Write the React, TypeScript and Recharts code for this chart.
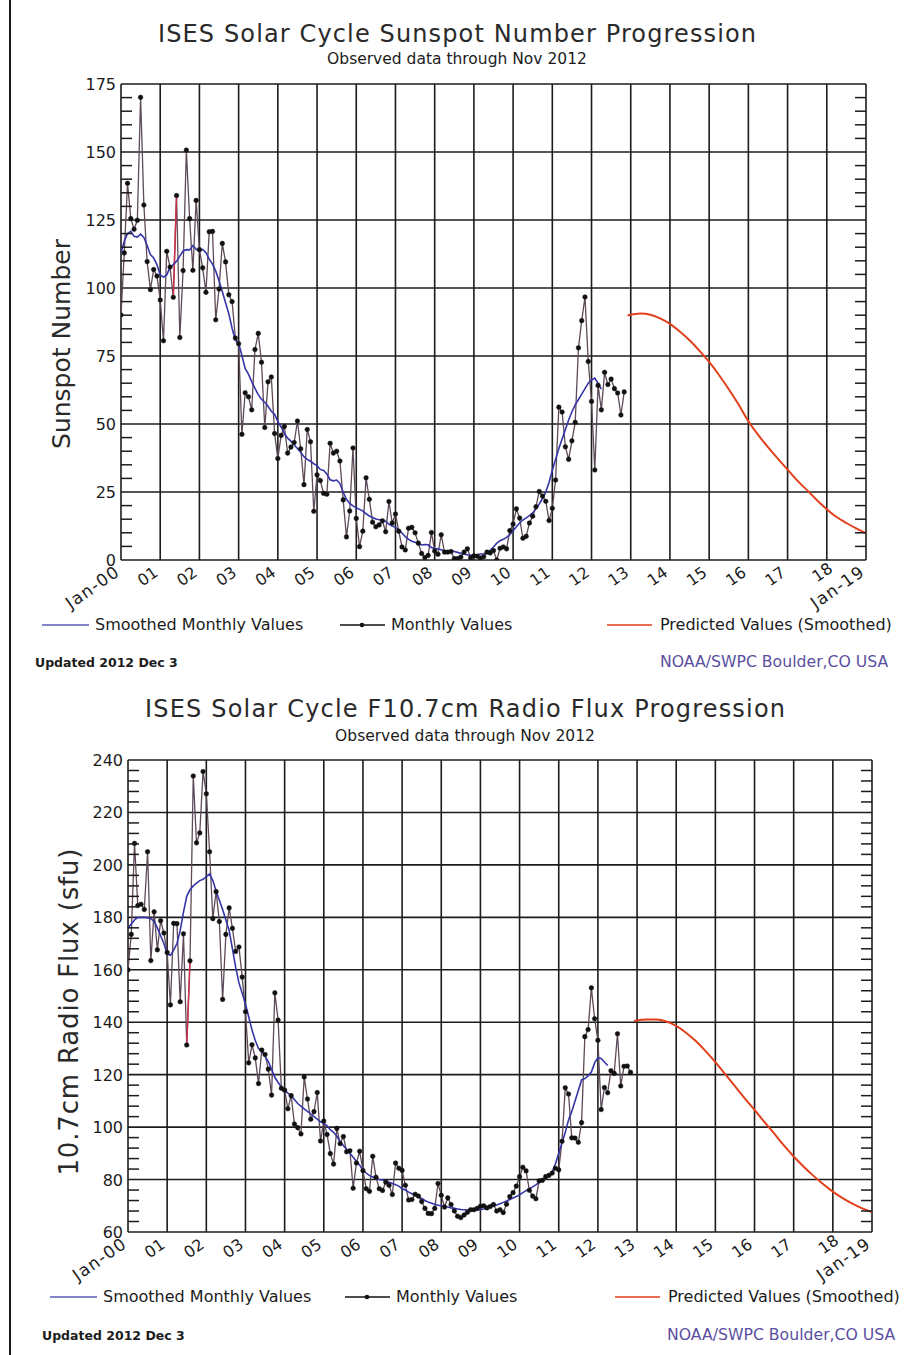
import React from "react";
import { LineChart, Line, XAxis, YAxis, ReferenceLine } from "recharts";

// x runs in years since Jan 2000; monthly values start at Jan 2000
const yearTicks = [0, 1, 2, 3, 4, 5, 6, 7, 8, 9, 10, 11, 12, 13, 14, 15, 16, 17, 18, 19];
const yearLabels = [
  "Jan-00", "01", "02", "03", "04", "05", "06", "07", "08", "09",
  "10", "11", "12", "13", "14", "15", "16", "17", "18", "Jan-19",
];

const ssnMajor = [0, 25, 50, 75, 100, 125, 150, 175];
const f107Major = [60, 80, 100, 120, 140, 160, 180, 200, 220, 240];

// monthly sunspot number, Jan 2000 .. Nov 2012
const ssnMonthly = [
  90.1, 112.9, 138.5, 125.5, 121.6, 124.9, 170.1, 130.5, 109.7, 99.4, 106.8, 104.4,
  95.6, 80.6, 113.5, 107.7, 96.6, 134.0, 81.8, 106.4, 150.7, 125.5, 106.5, 132.2,
  114.1, 107.4, 98.4, 120.7, 120.8, 88.3, 99.6, 116.4, 109.6, 97.5, 95.0, 81.6,
  79.5, 46.2, 61.5, 60.0, 55.2, 77.4, 83.3, 72.7, 48.7, 65.5, 67.3, 46.5,
  37.3, 45.8, 49.1, 39.3, 41.5, 43.2, 51.1, 40.9, 27.7, 48.0, 43.5, 17.9,
  31.3, 29.2, 24.5, 24.2, 42.9, 39.3, 40.0, 36.4, 22.1, 8.5, 18.0, 41.2,
  15.3, 4.9, 10.6, 30.2, 22.3, 13.9, 12.2, 12.9, 14.4, 10.4, 21.5, 13.6,
  16.9, 10.6, 4.8, 3.7, 11.7, 12.0, 10.0, 6.2, 2.4, 0.9, 1.7, 10.1,
  3.3, 2.1, 9.3, 2.9, 2.9, 3.1, 0.5, 0.5, 1.1, 2.9, 4.1, 0.8,
  1.5, 1.4, 0.7, 1.2, 2.9, 2.6, 3.5, 0.0, 4.3, 4.8, 4.1, 10.8,
  13.2, 18.8, 15.4, 8.0, 8.7, 13.6, 16.1, 19.6, 25.2, 23.5, 21.6, 14.5,
  19.0, 29.4, 56.2, 54.4, 41.6, 37.0, 43.8, 50.6, 78.0, 88.0, 96.7, 73.0,
  58.3, 33.1, 64.2, 55.2, 69.0, 64.5, 66.5, 63.0, 61.4, 53.3, 61.8,
];

// 13-month smoothed sunspot number, Jan 2000 .. Apr 2012
const ssnSmoothed = [
  112.9, 117.2, 120.0, 120.8, 119.0, 118.7, 119.8, 118.6, 115.6, 112.3, 111.0, 108.6,
  104.8, 104.0, 104.8, 107.5, 108.6, 109.8, 111.7, 113.6, 114.1, 114.0, 115.6, 114.2,
  113.6, 114.2, 113.0, 110.6, 108.8, 106.2, 102.7, 98.7, 94.6, 90.5, 85.2, 80.8,
  79.7, 75.2, 70.4, 68.3, 65.6, 63.1, 60.8, 59.1, 58.0, 56.5, 54.7, 53.6,
  50.9, 48.9, 46.5, 44.8, 43.7, 42.3, 41.0, 39.6, 38.0, 37.0, 36.3, 35.4,
  34.7, 33.3, 32.9, 31.6, 29.5, 29.1, 29.4, 28.1, 24.9, 22.3, 20.8, 19.9,
  19.2, 18.6, 18.0, 17.0, 16.2, 15.6, 15.1, 14.8, 14.8, 14.2, 13.2, 12.5,
  12.0, 11.1, 9.9, 8.6, 7.6, 6.9, 6.5, 6.0, 5.5, 5.7, 5.6, 4.6,
  4.2, 4.1, 3.8, 3.3, 3.4, 3.4, 3.1, 2.8, 2.5, 2.1, 1.9, 1.7,
  1.8, 1.9, 2.2, 2.3, 2.7, 3.6, 4.8, 6.2, 7.1, 7.6, 8.3, 9.3,
  10.8, 12.2, 13.6, 14.7, 15.5, 16.3, 17.3, 18.8, 20.6, 22.6, 25.0, 28.5,
  33.0, 37.0, 41.0, 44.5, 48.0, 51.5, 54.5, 57.0, 59.0, 61.0, 63.0, 65.0,
  66.2, 66.9, 65.0, 62.8,
];

// predicted smoothed sunspot number, [years since 2000, value]
const ssnPredicted: [number, number][] = [
  [12.92, 89.9], [13.25, 90.6], [13.5, 90.2], [13.75, 88.8], [14.0, 86.8],
  [14.25, 84.0], [14.5, 80.8], [14.75, 77.0], [15.0, 72.8], [15.25, 68.0],
  [15.5, 62.8], [15.75, 57.2], [16.0, 51.0], [16.25, 46.0], [16.5, 41.5],
  [16.75, 37.3], [17.0, 33.2], [17.25, 29.2], [17.5, 25.6], [17.75, 22.0],
  [18.0, 18.7], [18.25, 15.8], [18.5, 13.6], [18.75, 11.6], [19.0, 9.8],
];

// monthly F10.7cm flux (sfu), Jan 2000 .. Nov 2012
const f107Monthly = [
  160.0, 173.5, 208.2, 184.5, 185.0, 183.0, 205.0, 163.5, 182.1, 167.6, 178.7, 174.0,
  166.6, 146.6, 177.7, 177.6, 147.8, 173.7, 131.3, 163.4, 233.9, 208.4, 212.2, 235.6,
  227.1, 205.0, 179.5, 189.8, 178.4, 148.7, 173.5, 183.6, 175.8, 167.0, 168.7, 157.2,
  144.0, 124.5, 131.4, 126.4, 116.6, 129.4, 127.7, 122.1, 112.2, 151.2, 140.8, 114.8,
  114.1, 107.0, 112.0, 101.2, 99.8, 97.4, 119.1, 110.7, 103.0, 105.9, 113.2, 94.7,
  102.3, 97.2, 89.9, 85.9, 99.5, 93.7, 96.4, 90.6, 91.0, 76.7, 86.3, 90.8,
  83.4, 76.5, 75.5, 88.9, 80.9, 76.5, 75.8, 79.0, 77.8, 74.3, 86.3, 84.3,
  83.5, 77.8, 72.2, 72.4, 74.4, 73.7, 71.6, 69.0, 67.1, 67.0, 69.0, 78.5,
  74.0, 69.5, 73.0, 70.5, 68.0, 66.0, 65.5, 66.5, 67.5, 68.5, 68.5, 69.0,
  69.8, 70.0, 69.2, 69.7, 70.5, 68.0, 68.5, 67.4, 70.6, 73.5, 75.0, 77.5,
  81.1, 84.7, 83.3, 75.9, 73.7, 72.7, 79.5, 79.7, 81.1, 81.6, 82.5, 84.3,
  83.7, 94.6, 115.0, 112.6, 95.9, 95.8, 94.2, 101.7, 134.5, 137.2, 153.1, 141.3,
  133.1, 106.7, 115.1, 113.1, 121.5, 120.5, 135.6, 115.7, 123.2, 123.3, 120.9,
];

// smoothed F10.7cm flux, Jan 2000 .. Apr 2012
const f107Smoothed = [
  176.0, 177.5, 179.0, 180.0, 180.0, 180.0, 179.8, 179.5, 178.5, 176.0, 173.0, 170.0,
  166.0, 165.5, 167.5, 170.0, 175.0, 182.0, 188.0, 190.5, 192.0, 193.0, 194.0, 194.5,
  195.5, 196.5, 194.0, 190.0, 186.5, 183.0, 179.0, 175.0, 168.0, 161.0, 155.0, 151.0,
  147.0, 142.0, 137.0, 133.0, 130.0, 129.0, 127.0, 125.0, 122.0, 119.0, 117.0, 115.3,
  114.0, 113.0, 112.0, 110.5, 109.0, 108.0, 107.0, 106.0, 105.0, 104.0, 103.0, 102.0,
  101.5, 100.5, 99.0, 98.0, 96.5, 94.5, 93.0, 91.5, 90.0, 88.5, 87.0, 85.5,
  83.6, 82.5, 81.5, 81.0, 80.5, 80.0, 79.8, 79.5, 79.0, 78.5, 78.0, 77.5,
  76.5, 76.0, 75.2, 74.6, 74.0, 73.4, 72.8, 72.0, 71.4, 71.0, 70.6, 70.2,
  70.0, 69.8, 69.5, 69.2, 69.0, 68.8, 68.6, 68.5, 68.4, 68.3, 68.3, 68.4,
  68.6, 68.8, 69.1, 69.5, 69.9, 70.3, 70.8, 71.3, 71.8, 72.4, 73.0, 73.5,
  74.2, 75.0, 75.8, 76.5, 77.2, 78.0, 79.0, 79.8, 80.5, 81.5, 83.0, 86.0,
  90.0, 94.0, 98.0, 102.7, 106.0, 110.0, 114.0, 118.0, 118.5, 119.5, 121.0, 124.5,
  126.5, 126.2, 124.8, 123.5,
];

// predicted smoothed F10.7cm flux, [years since 2000, value]
const f107Predicted: [number, number][] = [
  [12.92, 140.5], [13.25, 141.0], [13.5, 141.0], [13.75, 140.3], [14.0, 138.6],
  [14.25, 136.0], [14.5, 132.8], [14.75, 129.0], [15.0, 124.8], [15.25, 120.2],
  [15.5, 115.6], [15.75, 111.0], [16.0, 106.6], [16.25, 102.0], [16.5, 97.6],
  [16.75, 93.0], [17.0, 88.8], [17.25, 85.0], [17.5, 81.5], [17.75, 78.3],
  [18.0, 75.4], [18.25, 72.9], [18.5, 70.8], [18.75, 69.0], [19.0, 67.6],
];

const FONT = "'DejaVu Sans', Arial, sans-serif";
const INK = "#1c1c1c";

const byMonth = (vals: number[]) => vals.map((v, i) => ({ t: i / 12, v }));
const byPair = (p: [number, number][]) => p.map(([t, v]) => ({ t, v }));

function range(from: number, to: number, step: number) {
  const out: number[] = [];
  for (let v = from; v <= to + 1e-9; v += step) out.push(v);
  return out;
}

type PanelProps = {
  top: number;
  height: number;
  marginTop: number;
  xAxisHeight: number;
  leftWidth: number;
  rightWidth: number;
  domain: [number, number];
  major: number[];
  minorStep: number;
  monthly: { t: number; v: number }[];
  smoothed: { t: number; v: number }[];
  predicted: { t: number; v: number }[];
  highlight: { t: number; v: number }[];
};

function Panel(p: PanelProps) {
  const allTicks = range(p.domain[0], p.domain[1], p.minorStep);
  const isMajor = (v: number) => p.major.some((m) => Math.abs(m - v) < 1e-6);

  const leftTick = (props: any) => {
    const { x, y, payload } = props;
    if (isMajor(payload.value)) {
      return (
        <text x={x - 5} y={y} dy={6} textAnchor="end" fontFamily={FONT} fontSize={16} fill={INK}>
          {payload.value}
        </text>
      );
    }
    return <line x1={x} x2={x + 11} y1={y} y2={y} stroke={INK} strokeWidth={1.5} />;
  };

  const rightTick = (props: any) => {
    const { x, y, payload } = props;
    if (isMajor(payload.value)) return <g />;
    return <line x1={x} x2={x - 11} y1={y} y2={y} stroke={INK} strokeWidth={1.5} />;
  };

  const bottomTick = (props: any) => {
    const { x, y, payload } = props;
    const i = yearTicks.indexOf(payload.value);
    const label = yearLabels[i];
    const long = label.startsWith("Jan");
    // the "18" label is nudged right/up in the original to make room for "Jan-19"
    const nudge = i === 18 ? 8 : 0;
    const ax = x - 1 + nudge;
    const ay = y + 15 - nudge / 2;
    return (
      <text
        x={ax}
        y={ay}
        textAnchor="end"
        fontFamily={FONT}
        fontSize={long ? 17 : 16}
        fill={INK}
        textLength={long ? 60 : undefined}
        transform={`rotate(-35, ${ax}, ${ay})`}
      >
        {label}
      </text>
    );
  };

  return (
    <div style={{ position: "absolute", left: 0, top: p.top }}>
      <LineChart
        width={915}
        height={p.height}
        margin={{ top: p.marginTop, right: 0, bottom: 0, left: 0 }}
      >
        <XAxis
          type="number"
          dataKey="t"
          domain={[0, 19]}
          ticks={yearTicks}
          interval={0}
          allowDataOverflow
          height={p.xAxisHeight}
          tickSize={0}
          tickMargin={0}
          tickLine={false}
          axisLine={false}
          tick={bottomTick}
        />
        <YAxis
          type="number"
          domain={p.domain}
          ticks={allTicks}
          interval={0}
          allowDataOverflow
          width={p.leftWidth}
          tickSize={0}
          tickMargin={0}
          tickLine={false}
          axisLine={false}
          tick={leftTick}
        />
        <YAxis
          yAxisId="r"
          orientation="right"
          type="number"
          domain={p.domain}
          ticks={allTicks}
          interval={0}
          allowDataOverflow
          width={p.rightWidth}
          tickSize={0}
          tickMargin={0}
          tickLine={false}
          axisLine={false}
          tick={rightTick}
        />
        {p.major.map((v) => (
          <ReferenceLine key={"h" + v} y={v} stroke={INK} strokeWidth={1.6} />
        ))}
        {yearTicks.map((v) => (
          <ReferenceLine key={"v" + v} x={v} stroke={INK} strokeWidth={1.6} />
        ))}
        <Line
          yAxisId="r"
          data={p.smoothed}
          dataKey="v"
          stroke="none"
          dot={false}
          activeDot={false}
          isAnimationActive={false}
        />
        <Line
          data={p.monthly}
          dataKey="v"
          type="linear"
          stroke="#5e4a58"
          strokeWidth={1.3}
          dot={{ r: 2.3, fill: "#111", stroke: "#111", strokeWidth: 0.5 }}
          activeDot={false}
          isAnimationActive={false}
        />
        <Line
          data={p.highlight}
          dataKey="v"
          type="linear"
          stroke="#d0304a"
          strokeWidth={1.5}
          dot={false}
          activeDot={false}
          isAnimationActive={false}
        />
        <Line
          data={p.smoothed}
          dataKey="v"
          type="linear"
          stroke="#3535a8"
          strokeWidth={1.6}
          dot={false}
          activeDot={false}
          isAnimationActive={false}
        />
        <Line
          data={p.predicted}
          dataKey="v"
          type="monotone"
          stroke="#e2401c"
          strokeWidth={2}
          dot={false}
          activeDot={false}
          isAnimationActive={false}
        />
      </LineChart>
    </div>
  );
}

function LegendRow({ x0, y, x1, x2 }: { x0: number; y: number; x1: number; x2: number }) {
  const text = { fontFamily: FONT, fontSize: 16, fill: INK } as const;
  return (
    <g>
      <line x1={x0} x2={x0 + 47} y1={y} y2={y} stroke="#5a5ab8" strokeWidth={1.5} />
      <text x={x0 + 53} y={y + 5} {...text}>Smoothed Monthly Values</text>
      <line x1={x1} x2={x1 + 45} y1={y} y2={y} stroke="#111" strokeWidth={1.5} />
      <circle cx={x1 + 22} cy={y} r={2.3} fill="#111" />
      <text x={x1 + 51} y={y + 5} {...text}>Monthly Values</text>
      <line x1={x2} x2={x2 + 45} y1={y} y2={y} stroke="#e2401c" strokeWidth={1.5} />
      <text x={x2 + 53} y={y + 5} {...text}>Predicted Values (Smoothed)</text>
    </g>
  );
}

function Footer({ x0, x1, y }: { x0: number; x1: number; y: number }) {
  return (
    <g>
      <text x={x0} y={y} fontFamily={FONT} fontSize={12.5} fontWeight="bold" fill={INK}>
        Updated 2012 Dec  3
      </text>
      <text x={x1} y={y} fontFamily={FONT} fontSize={15.7} fill="#5a4fa0">
        NOAA/SWPC Boulder,CO USA
      </text>
    </g>
  );
}

export default function App() {
  return (
    <div style={{ position: "absolute", left: 0, top: 0, width: 915, height: 1355, background: "#fff" }}>
      <Panel
        top={0}
        height={615}
        marginTop={84}
        xAxisHeight={55}
        leftWidth={121}
        rightWidth={49}
        domain={[0, 175]}
        major={ssnMajor}
        minorStep={5}
        monthly={byMonth(ssnMonthly)}
        smoothed={byMonth(ssnSmoothed)}
        predicted={byPair(ssnPredicted)}
        highlight={byMonth(ssnMonthly).slice(16, 18)}
      />
      <Panel
        top={680}
        height={615}
        marginTop={80}
        xAxisHeight={63}
        leftWidth={128}
        rightWidth={43}
        domain={[60, 240]}
        major={f107Major}
        minorStep={4}
        monthly={byMonth(f107Monthly)}
        smoothed={byMonth(f107Smoothed)}
        predicted={byPair(f107Predicted)}
        highlight={byMonth(f107Monthly).slice(18, 20)}
      />
      <svg
        width={915}
        height={1355}
        style={{ position: "absolute", left: 0, top: 0, pointerEvents: "none" }}
      >
        <line x1={10} x2={10} y1={0} y2={1355} stroke={INK} strokeWidth={2} />

        <text
          x={457}
          y={42}
          textAnchor="middle"
          fontFamily={FONT}
          fontSize={24}
          fill="#2a2a2a"
          textLength={598}
          lengthAdjust="spacing"
        >
          ISES Solar Cycle Sunspot Number Progression
        </text>
        <text x={457} y={64} textAnchor="middle" fontFamily={FONT} fontSize={15.5} fill={INK}>
          Observed data through Nov 2012
        </text>
        <text
          x={70}
          y={344}
          textAnchor="middle"
          fontFamily={FONT}
          fontSize={25}
          fill="#2a2a2a"
          transform="rotate(-90, 70, 344)"
        >
          Sunspot Number
        </text>
        <LegendRow x0={42} y={625} x1={340} x2={607} />
        <Footer x0={35} x1={660} y={667} />

        <text
          x={465}
          y={717}
          textAnchor="middle"
          fontFamily={FONT}
          fontSize={24}
          fill="#2a2a2a"
          textLength={640}
          lengthAdjust="spacing"
        >
          ISES Solar Cycle F10.7cm Radio Flux Progression
        </text>
        <text x={465} y={741} textAnchor="middle" fontFamily={FONT} fontSize={15.5} fill={INK}>
          Observed data through Nov 2012
        </text>
        <text
          x={78}
          y={1012}
          textAnchor="middle"
          fontFamily={FONT}
          fontSize={26}
          fill="#2a2a2a"
          textLength={327}
          lengthAdjust="spacing"
          transform="rotate(-90, 78, 1012)"
        >
          10.7cm Radio Flux (sfu)
        </text>
        <LegendRow x0={50} y={1297} x1={345} x2={615} />
        <Footer x0={42} x1={667} y={1340} />
      </svg>
    </div>
  );
}
